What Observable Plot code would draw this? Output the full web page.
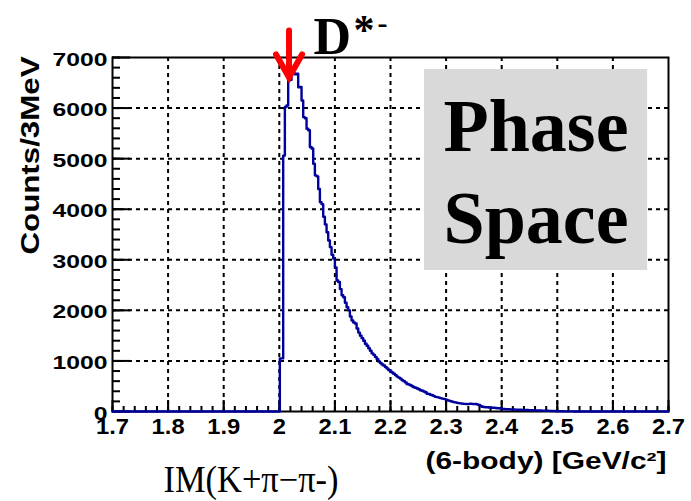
<!DOCTYPE html>
<html><head><meta charset="utf-8">
<script src="https://cdn.jsdelivr.net/npm/d3@7"></script>
<script src="https://cdn.jsdelivr.net/npm/@observablehq/plot@0.6"></script>
<style>html,body{margin:0;padding:0;background:#fff;} #chart svg{display:block;}</style>
</head><body><div id="chart"></div>
<script>
// ---- data ----
const binStart = 2.001;   // GeV, first non-empty 3 MeV bin
const binWidth = 0.003;   // 3 MeV
const counts = [
 1050,1050,5060,6020,6050,6545,6560,6680,6690,6670,
 6680,6410,6420,6150,5820,5800,5590,5560,5230,5200,
 4900,4670,4650,4400,4140,4100,3850,3700,3545,3380,
 3250,3100,3025,2850,2590,2560,2420,2300,2260,2150,
 2060,2000,1880,1800,1760,1740,1640,1560,1500,1450,
 1400,1340,1300,1250,1200,1150,1120,1080,1040,990,
 960,930,910,880,850,820,790,770,745,720,
 690,670,650,620,600,575,545,535,520,500,
 480,470,455,440,420,410,395,380,350,345,
 330,320,305,290,285,275,265,255,250,240,
 225,215,205,195,185,180,170,165,160,155,
 150,150,145,150,155,150,145,150,140,130,
 110,95,90,85,85,80,80,75,75,70,
 65,65,60,50,50,45,45,45,40,40,
 40,38,35,35,35,33,30,30,30,28,
 25,25,25,22,20,20,20,18,15,15,
 15,12,12,10,10,8,5,5,4,4,
 3,3,3,2,2,2,1,1,1,1,
 0
];
const xDomain = [1.7, 2.7];
const yDomain = [0, 7000];
const xMajorTicks = [1.7,1.8,1.9,2.0,2.1,2.2,2.3,2.4,2.5,2.6,2.7];
const xTickLabels = ["1.7","1.8","1.9","2","2.1","2.2","2.3","2.4","2.5","2.6","2.7"];
const yMajorTicks = [0,1000,2000,3000,4000,5000,6000,7000];
const yTickLabels = ["0","1000","2000","3000","4000","5000","6000","7000"];
const arrowMass = 2.0175;      // D*- marker position
const arrowTipCount = 6605;
const phaseBox = [{x1: 2.2612, x2: 2.6625, y1: 2788, y2: 6763}];
const yTitle = "Counts/3MeV";
const xTitleA = "IM(K+\u03c0\u2212\u03c0-)";
const xTitleB = "(6-body) [GeV/c\u00b2]";

// ---- derived ----
const histPoints = [{x: xDomain[0], y: 0}]
  .concat(counts.map((c, i) => ({x: binStart + i * binWidth, y: c})))
  .concat([{x: binStart + counts.length * binWidth, y: 0}, {x: xDomain[1], y: 0}]);
const xMinor = d3.range(0, 51).map(i => xDomain[0] + i * 0.02);
const yMinor = d3.range(0, 36).map(i => i * 200);
const xGrid = xMajorTicks.slice(1, -1);
const yGrid = yMajorTicks.slice(1, -1);

const sans = "'Liberation Sans', Arial, Helvetica, sans-serif";
const serif = "'Liberation Serif', 'Times New Roman', serif";
const gridStyle = {stroke: "black", strokeOpacity: 1, strokeWidth: 2, strokeDasharray: "4,4"};
const arrowShape = {
  draw(ctx, l) {
    ctx.moveTo(0, 0); ctx.lineTo(0, -l);
    ctx.moveTo(-13, 23 - l); ctx.lineTo(0, -l); ctx.lineTo(13, 23 - l);
  }
};

const svg = Plot.plot({
  width: 691, height: 501,
  marginLeft: 112, marginRight: 23, marginTop: 57, marginBottom: 90,
  style: {fontFamily: sans, background: "white", color: "black", overflow: "visible"},
  x: {domain: xDomain},
  y: {domain: yDomain},
  marks: [
    Plot.gridX(xGrid, gridStyle),
    Plot.gridY(yGrid, gridStyle),
    Plot.rect(phaseBox, {x1: "x1", x2: "x2", y1: "y1", y2: "y2", fill: "#d9d9d9"}),
    Plot.text(["Phase"], {text: d => d, frameAnchor: "top-left", dx: 423.5, dy: 93, lineAnchor: "bottom", textAnchor: "middle", fontFamily: serif, fontWeight: "bold", fontSize: 74, fill: "black"}),
    Plot.text(["Space"], {text: d => d, frameAnchor: "top-left", dx: 423.5, dy: 185, lineAnchor: "bottom", textAnchor: "middle", fontFamily: serif, fontWeight: "bold", fontSize: 74, fill: "black"}),
    Plot.frame({stroke: "black", strokeWidth: 2}),
    Plot.axisY(yMinor, {tickSize: -8, fill: "none", strokeWidth: 2}),
    Plot.axisY(yMajorTicks, {tickSize: -18, fill: "none", strokeWidth: 2}),
    Plot.axisY(yMajorTicks, {tickSize: 0, tickPadding: 5, dy: 2, tickFormat: d => yTickLabels[yMajorTicks.indexOf(d)], fontSize: 19, fontWeight: "bold", fontFamily: sans, label: null}),
    Plot.axisX(xMinor, {tickSize: -5, fill: "none", strokeWidth: 2}),
    Plot.axisX(xMajorTicks, {tickSize: -11, fill: "none", strokeWidth: 2}),
    Plot.axisX(xMajorTicks, {tickSize: 0, tickPadding: 7, tickFormat: d => xTickLabels[xMajorTicks.indexOf(d)], fontSize: 22, fontWeight: "bold", fontFamily: sans, label: null}),
    Plot.line(histPoints, {x: "x", y: "y", curve: "step-after", stroke: "#00009c", strokeWidth: 2.4}),
    Plot.vector([{x: arrowMass, y: arrowTipCount}], {x: "x", y: "y", length: 47, rotate: 180, anchor: "end", shape: arrowShape, stroke: "red", strokeWidth: 6, strokeLinejoin: "miter"}),
    Plot.text([yTitle], {text: d => d, frameAnchor: "left", rotate: -90, dx: -74, dy: -79, lineAnchor: "bottom", textAnchor: "middle", fontSize: 26, fontWeight: "bold", fontFamily: sans, fill: "black"}),
    Plot.text([xTitleA], {text: d => d, frameAnchor: "bottom-left", dx: 51, dy: 80, lineAnchor: "bottom", textAnchor: "start", fontSize: 37, fontFamily: serif, fill: "black"}),
    Plot.text([xTitleB], {text: d => d, frameAnchor: "bottom-right", dx: -2, dy: 57, lineAnchor: "bottom", textAnchor: "end", fontSize: 23, fontWeight: "bold", fontFamily: sans, fill: "black"}),
    Plot.text(["D"], {text: d => d, frameAnchor: "top-left", dx: 201, dy: -4, lineAnchor: "bottom", textAnchor: "start", fontSize: 52, fontWeight: "bold", fontFamily: serif, fill: "black"}),
    Plot.text(["*"], {text: d => d, frameAnchor: "top-left", dx: 241, dy: -14, lineAnchor: "bottom", textAnchor: "start", fontSize: 42, fontWeight: "bold", fontFamily: serif, fill: "black"}),
    Plot.text(["-"], {text: d => d, frameAnchor: "top-left", dx: 265, dy: -25, lineAnchor: "bottom", textAnchor: "start", fontSize: 30, fontWeight: "bold", fontFamily: serif, fill: "black"}),
    Plot.text(["("], {text: d => d, frameAnchor: "top-left", dx: 163, dy: -68, lineAnchor: "bottom", textAnchor: "start", fontSize: 40, fontFamily: serif, fill: "black"}),
    Plot.text([")"], {text: d => d, frameAnchor: "top-left", dx: 263, dy: -68, lineAnchor: "bottom", textAnchor: "start", fontSize: 40, fontFamily: serif, fill: "black"})
  ]
});
document.getElementById("chart").append(svg);

// horizontal stretch of text as in the original figure
function fitText(sel, fn) {
  svg.querySelectorAll(sel).forEach(t => {
    const len = fn(t, t.getComputedTextLength());
    if (len) { t.setAttribute("textLength", len.toFixed(1)); t.setAttribute("lengthAdjust", "spacingAndGlyphs"); }
  });
}
fitText('g[aria-label="y-axis tick label"] text', (t, w) => w * 1.3);
fitText('g[aria-label="x-axis tick label"] text', (t, w) => w * 1.08);
fitText('text', (t, w) => {
  const s = t.textContent;
  if (s === yTitle) return 198;
  if (s === xTitleA) return 175;
  if (s === xTitleB) return 241;
  return null;
});
</script></body></html>
